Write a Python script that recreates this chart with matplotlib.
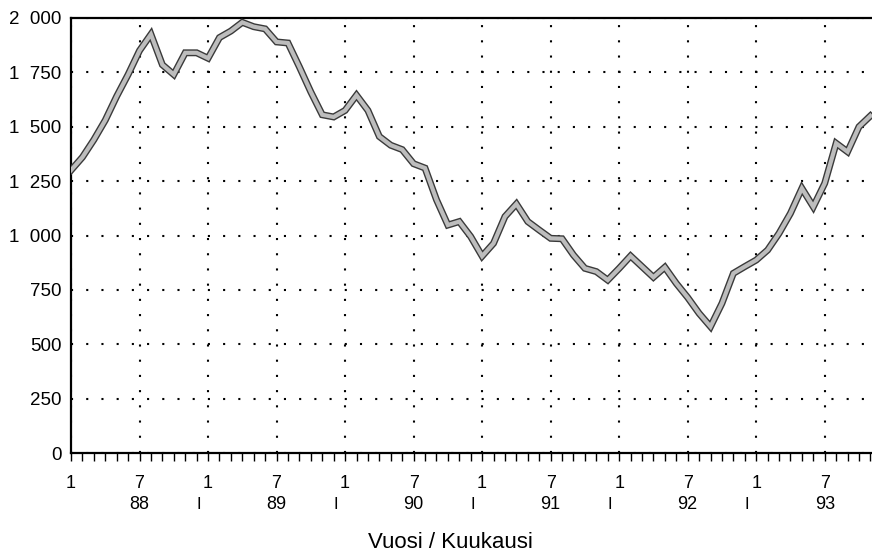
import numpy as np
import matplotlib
matplotlib.use("Agg")
import matplotlib.pyplot as plt
from matplotlib.ticker import FuncFormatter, MultipleLocator

plt.rcParams['font.family'] = ['Liberation Sans', 'DejaVu Sans']

# Kuukausiarvot 1/88 - 11/93
v88 = [1300, 1360, 1440, 1530, 1640, 1740, 1850, 1925, 1785, 1740, 1840, 1840]
v89 = [1815, 1910, 1940, 1980, 1960, 1950, 1890, 1885, 1775, 1660, 1555, 1545]
v90 = [1575, 1645, 1575, 1455, 1415, 1395, 1330, 1310, 1165, 1048, 1064, 995]
v91 = [905, 964, 1087, 1145, 1064, 1025, 987, 985, 910, 849, 834, 795]
v92 = [849, 906, 857, 808, 854, 780, 715, 642, 581, 688, 826, 857]
v93 = [887, 933, 1010, 1102, 1217, 1132, 1240, 1424, 1385, 1500, 1550]
arvot = v88 + v89 + v90 + v91 + v92 + v93
vuodet = ['88', '89', '90', '91', '92', '93']
kuukausiLabels = ['1', '7']

x = np.arange(len(arvot))

fig = plt.figure(figsize=(8.72, 5.54), dpi=100)
ax = fig.add_axes([71 / 872, 1 - 453 / 554, 801 / 872, 435 / 554])

# viiva: tumma reuna + harmaa tayte
ax.plot(x, arvot, color='#3a3a3a', lw=5.0, solid_joinstyle='miter', zorder=3)
ax.plot(x, arvot, color='#bdbdbd', lw=3.0, solid_joinstyle='miter', zorder=4)

ax.set_xlim(0, 70.14)
ax.set_ylim(0, 2000)

# akselit
ax.yaxis.set_major_locator(MultipleLocator(250))
ax.yaxis.set_major_formatter(FuncFormatter(lambda v, p: f"{int(v):,}".replace(",", "\u2007")))
majX = np.arange(0, 72, 6)
ax.set_xticks(majX)
ax.set_xticklabels([kuukausiLabels[i % 2] for i in range(len(majX))])
ax.set_xticks(np.arange(0, 71), minor=True)

ax.tick_params(axis='y', length=0, pad=7, labelsize=13.5)
ax.tick_params(axis='x', which='both', direction='out', length=6, width=1, pad=10, labelsize=13)

for s in ['left', 'bottom', 'top']:
    ax.spines[s].set_linewidth(1.6)
ax.spines['right'].set_visible(False)

ax.grid(True, which='major', color='black', lw=1.5, linestyle=(0, (1.0, 6.3)))
ax.set_axisbelow(True)

# vuosirivi
tr = ax.get_xaxis_transform()
for k, v in enumerate(vuodet):
    ax.text(12 * k + 6, -0.118, v, transform=tr, ha='center', va='center', fontsize=13)
    if k > 0:
        ax.text(12 * k - 0.8, -0.118, 'I', transform=tr, ha='center', va='center', fontsize=12)

fig.text(0.516, 0.02, 'Vuosi / Kuukausi', ha='center', va='center', fontsize=16)

plt.savefig('out.png', dpi=100)
